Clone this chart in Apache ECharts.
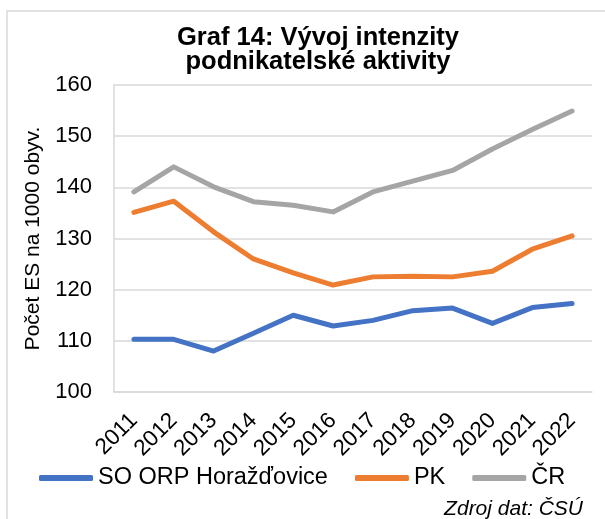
<!DOCTYPE html>
<html>
<head>
<meta charset="utf-8">
<script src="https://cdn.jsdelivr.net/npm/echarts@6/dist/echarts.min.js"></script>
<style>
html,body{margin:0;padding:0;background:#fff;}
#c{width:605px;height:519px;}
</style>
</head>
<body>
<div id="c"></div>
<script>
const years = ['2011','2012','2013','2014','2015','2016','2017','2018','2019','2020','2021','2022'];
const soOrp = [110.3, 110.3, 108.0, 111.5, 115.0, 112.9, 114.0, 115.9, 116.4, 113.4, 116.5, 117.3];
const pk    = [135.1, 137.3, 131.3, 126.0, 123.3, 120.9, 122.5, 122.6, 122.5, 123.6, 127.9, 130.5];
const cr    = [139.1, 144.0, 140.1, 137.2, 136.5, 135.2, 139.1, 141.2, 143.3, 147.5, 151.3, 154.9];
const seriesNames = ['SO ORP Horažďovice', 'PK', 'ČR'];
const colors = ['#4472C4', '#ED7D31', '#A5A5A5'];
const FONT = '"Liberation Sans", Arial, sans-serif';

const chart = echarts.init(document.getElementById('c'), null, {renderer: 'canvas'});
const mk = (name, data, color) => ({
  name: name, type: 'line', data: data, symbol: 'none', smooth: false,
  color: color,
  lineStyle: {width: 5, color: color, cap: 'round', join: 'round'}
});
chart.setOption({
  animation: false,
  backgroundColor: '#fff',
  textStyle: {fontFamily: FONT},
  title: {
    text: 'Graf 14: Vývoj intenzity\npodnikatelské aktivity',
    left: 318, top: 26, padding: 0, textAlign: 'center',
    textStyle: {fontFamily: FONT, fontSize: 25.5, fontWeight: 'bold', color: '#000', lineHeight: 24}
  },
  grid: {left: 114, right: 13, top: 85, bottom: 127, containLabel: false},
  legend: {
    data: seriesNames,
    left: 39, top: 466, padding: 0,
    itemWidth: 54, itemHeight: 6, itemGap: 27,
    icon: 'roundRect',
    textStyle: {fontFamily: FONT, fontSize: 23.5, color: '#000'}
  },
  xAxis: {
    type: 'category', data: years, boundaryGap: true,
    axisLine: {show: true, lineStyle: {color: '#d9d9d9', width: 1.5}},
    axisTick: {show: false},
    axisLabel: {rotate: 45, margin: 25, fontFamily: FONT, fontSize: 22.5, color: '#000', interval: 0}
  },
  yAxis: {
    type: 'value', min: 100, max: 160, interval: 10,
    name: 'Počet ES na 1000 obyv.', nameLocation: 'middle', nameGap: 70, nameRotate: 90,
    nameTextStyle: {fontFamily: FONT, fontSize: 21, color: '#000'},
    axisLine: {show: true, lineStyle: {color: '#d9d9d9', width: 1.5}},
    axisTick: {show: false},
    axisLabel: {margin: 22, fontFamily: FONT, fontSize: 22, color: '#000'},
    splitLine: {show: true, lineStyle: {color: '#d9d9d9', width: 1.5}}
  },
  graphic: [
    {type: 'rect', shape: {x: 7, y: 11, width: 700, height: 600}, style: {fill: 'none', stroke: '#d9d9d9', lineWidth: 1.5}, z: -10, silent: true},
    {type: 'text', x: 583, y: 499, style: {text: 'Zdroj dat: ČSÚ', font: 'italic 21px ' + FONT, fill: '#000', textAlign: 'right', textVerticalAlign: 'top'}, silent: true}
  ],
  series: [mk(seriesNames[0], soOrp, colors[0]), mk(seriesNames[1], pk, colors[1]), mk(seriesNames[2], cr, colors[2])]
});
</script>
</body>
</html>
